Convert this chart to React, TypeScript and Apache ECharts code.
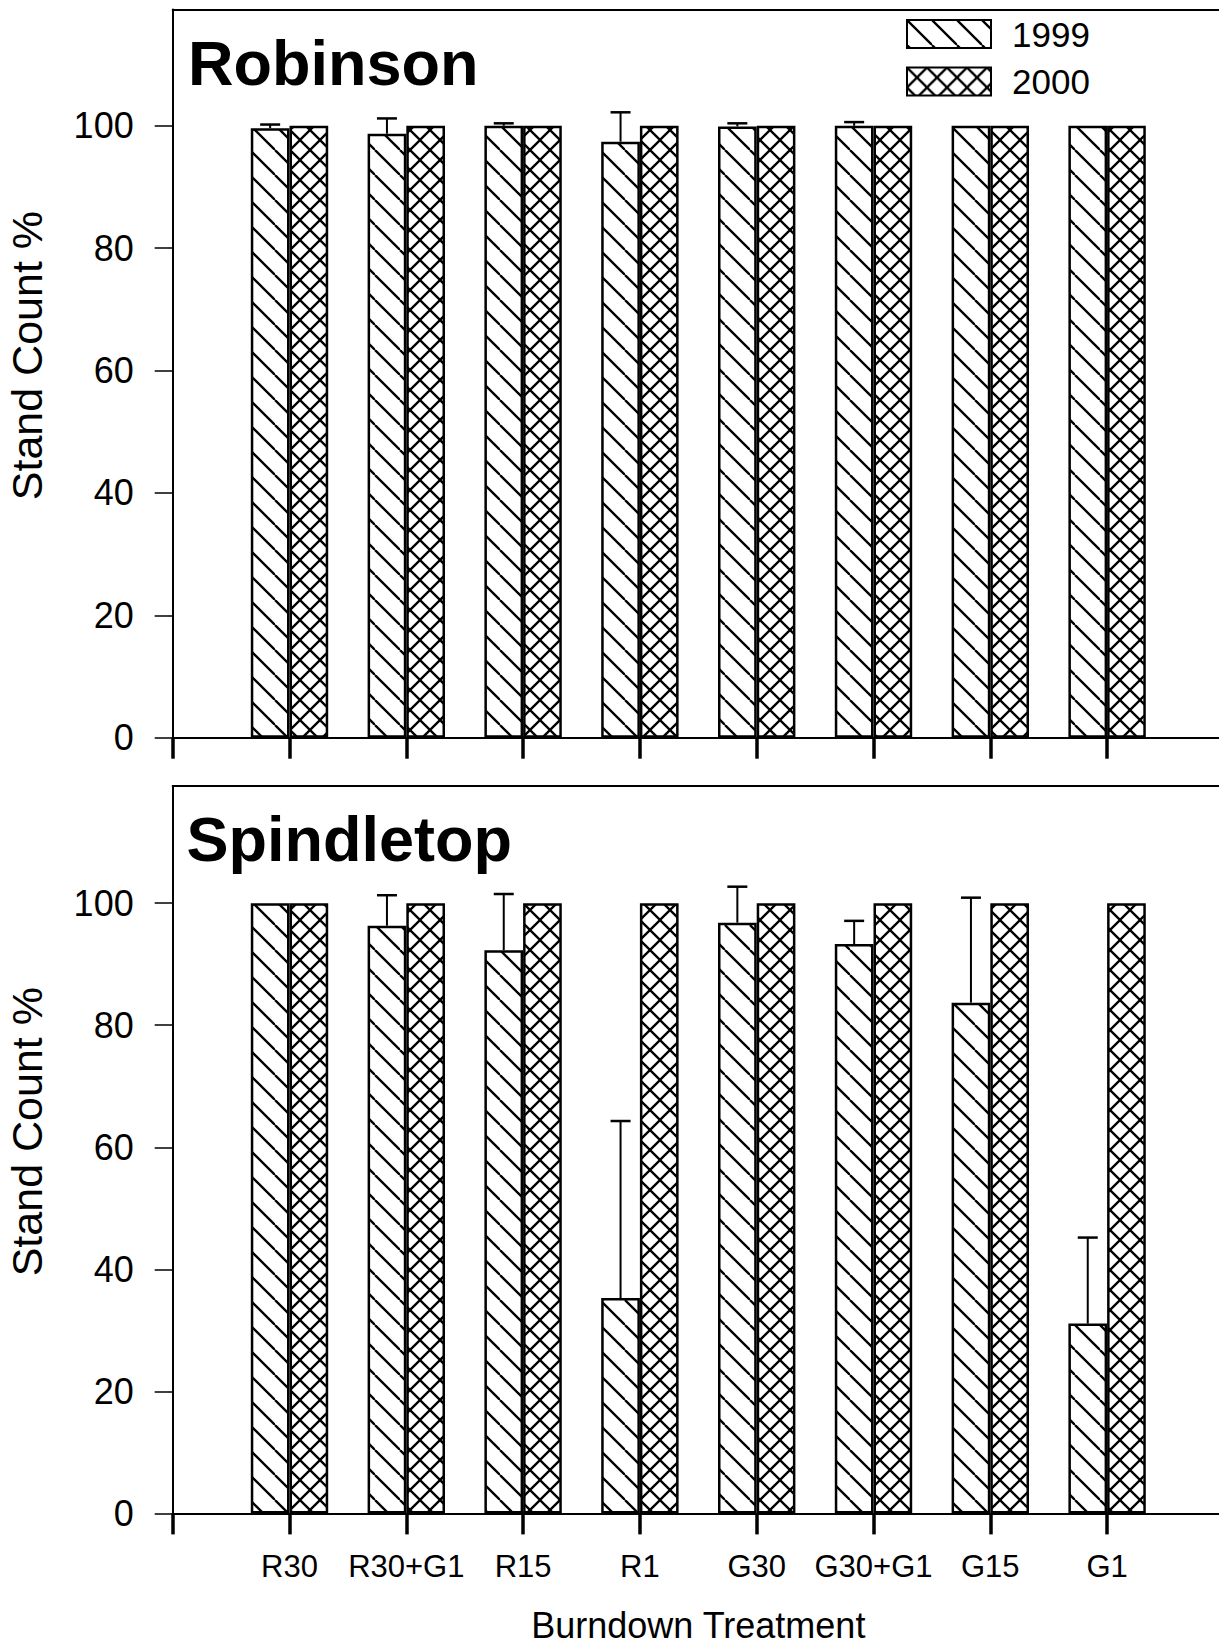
import { useEffect, useRef } from 'react';
import * as echarts from 'echarts';

const CATEGORIES = ['R30', 'R30+G1', 'R15', 'R1', 'G30', 'G30+G1', 'G15', 'G1'];
const YEARS = ['1999', '2000'];
const ROBINSON_1999 = [99.6, 98.7, 100, 97.4, 99.9, 100, 100, 100];
const ROBINSON_1999_ERR = [0.6, 2.5, 0.4, 4.8, 0.5, 0.6, 0, 0];
const ROBINSON_2000 = [100, 100, 100, 100, 100, 100, 100, 100];
const SPINDLETOP_1999 = [100, 96.3, 92.3, 35.3, 96.8, 93.3, 83.7, 31.1];
const SPINDLETOP_1999_ERR = [0, 5.0, 9.2, 29.0, 5.9, 3.8, 17.2, 14.1];
const SPINDLETOP_2000 = [100, 100, 100, 100, 100, 100, 100, 100];
const Y_TICKS = [0, 20, 40, 60, 80, 100];
const PANEL_TITLES = ['Robinson', 'Spindletop'];
const Y_TITLE = 'Stand Count %';
const X_TITLE = 'Burndown Treatment';

const FONT = '"Liberation Sans", Arial, Helvetica, sans-serif';
const BAR_W = 38.7;
const CAP_W = 20;

function hatch(size: number, cross: boolean) {
  const c = document.createElement('canvas');
  c.width = size;
  c.height = size;
  const ctx = c.getContext('2d')!;
  ctx.fillStyle = '#fff';
  ctx.fillRect(0, 0, size, size);
  ctx.strokeStyle = '#000';
  ctx.lineWidth = 2.3;
  for (const o of [-size, 0, size]) {
    ctx.beginPath();
    ctx.moveTo(o, 0);
    ctx.lineTo(o + size, size);
    ctx.stroke();
    if (cross) {
      ctx.beginPath();
      ctx.moveTo(o, size);
      ctx.lineTo(o + size, 0);
      ctx.stroke();
    }
  }
  return c;
}

export default function App() {
  const ref = useRef<HTMLDivElement>(null);
  useEffect(() => {
    const chart = echarts.init(ref.current!, null, { renderer: 'svg' });
    const fill1999 = { image: hatch(25, false), repeat: 'repeat', imageWidth: 25, imageHeight: 25 };
    const fill2000 = { image: hatch(20, true), repeat: 'repeat', imageWidth: 20, imageHeight: 20 };
    const axisCats = ['', ...CATEGORIES, ' '];

    const panels = [
      { title: PANEL_TITLES[0], v99: ROBINSON_1999, e99: ROBINSON_1999_ERR, v00: ROBINSON_2000,
        top: 9.5, height: 728.2, max: 119, labels: false, titleLeft: 188, titleTop: 31 },
      { title: PANEL_TITLES[1], v99: SPINDLETOP_1999, e99: SPINDLETOP_1999_ERR, v00: SPINDLETOP_2000,
        top: 786, height: 727.4, max: 119.2, labels: true, titleLeft: 186.5, titleTop: 807.5 },
    ];

    const grid: any[] = [];
    const xAxis: any[] = [];
    const yAxis: any[] = [];
    const series: any[] = [];
    const title: any[] = [];

    panels.forEach((p, pi) => {
      grid.push({ left: 172.7, top: p.top, width: 1051.2, height: p.height, outerBoundsMode: 'none', containLabel: false });
      title.push({
        text: p.title, left: p.titleLeft, top: p.titleTop, padding: 0,
        textStyle: { fontSize: 63, lineHeight: 63, fontWeight: 'bold', color: '#000', fontFamily: FONT },
      });
      xAxis.push({
        gridIndex: pi, type: 'category', data: axisCats, boundaryGap: false, position: 'bottom',
        axisLine: { show: true, onZero: false, lineStyle: { color: '#000', width: 2 } },
        axisTick: { show: true, length: 21, interval: (i: number) => i <= CATEGORIES.length, lineStyle: { color: '#000', width: 3.5 } },
        axisLabel: { show: p.labels, interval: 0, margin: 38, fontSize: 31, lineHeight: 31, color: '#000', fontFamily: FONT },
        splitLine: { show: false },
        name: p.labels ? X_TITLE : '', nameLocation: 'middle', nameGap: 97, nameMoveOverlap: false,
        nameTextStyle: { fontSize: 36, lineHeight: 30, color: '#000', fontFamily: FONT },
      });
      xAxis.push({
        gridIndex: pi, type: 'category', data: axisCats, boundaryGap: false, position: 'top',
        axisLine: { show: true, onZero: false, lineStyle: { color: '#000', width: 2 } },
        axisTick: { show: false }, axisLabel: { show: false }, splitLine: { show: false },
      });
      yAxis.push({
        gridIndex: pi, type: 'value', min: 0, max: p.max, interval: 20,
        axisLine: { show: true, lineStyle: { color: '#000', width: 2 } },
        axisTick: { show: true, length: 18, customValues: Y_TICKS, lineStyle: { color: '#000', width: 1.5 } },
        axisLabel: { customValues: Y_TICKS, margin: 39, fontSize: 36, color: '#000', fontFamily: FONT },
        splitLine: { show: false },
        name: Y_TITLE, nameLocation: 'middle', nameGap: 124, nameMoveOverlap: false,
        nameTextStyle: { fontSize: 43, lineHeight: 43, color: '#000', fontFamily: FONT, padding: [0, 0, 0, 36] },
      });
      series.push({
        type: 'bar', name: YEARS[0], xAxisIndex: pi * 2, yAxisIndex: pi,
        data: CATEGORIES.map((c, i) => [c, p.v99[i]]),
        barWidth: BAR_W, barGap: '0%',
        itemStyle: { color: fill1999, borderColor: '#000', borderWidth: 2.5 },
      });
      series.push({
        type: 'bar', name: YEARS[1], xAxisIndex: pi * 2, yAxisIndex: pi,
        data: CATEGORIES.map((c, i) => [c, p.v00[i]]),
        barWidth: BAR_W, barGap: '0%',
        itemStyle: { color: fill2000, borderColor: '#000', borderWidth: 2.5 },
      });
      series.push({
        type: 'custom', name: 'err' + pi, xAxisIndex: pi * 2, yAxisIndex: pi, z: 5,
        encode: { x: 0, y: 1 },
        data: CATEGORIES.map((c, i) => [c, p.v99[i], p.e99[i]]),
        renderItem: (params: any, api: any) => {
          const v = api.value(1);
          const e = api.value(2);
          if (!e) return null;
          const ci = api.value(0);
          const base = api.coord([ci, v]);
          const top = api.coord([ci, v + e]);
          const x = base[0] - BAR_W / 2;
          return {
            type: 'group',
            children: [
              { type: 'line', shape: { x1: x, y1: base[1], x2: x, y2: top[1] }, style: { stroke: '#000', lineWidth: 2 } },
              { type: 'line', shape: { x1: x - CAP_W / 2, y1: top[1], x2: x + CAP_W / 2, y2: top[1] }, style: { stroke: '#000', lineWidth: 2.5 } },
            ],
          };
        },
      });
    });

    chart.setOption({
      animation: false,
      backgroundColor: '#fff',
      title,
      legend: {
        data: YEARS, orient: 'vertical', left: 906, top: 16.5, padding: 0,
        itemWidth: 84, itemHeight: 28, itemGap: 12.5, icon: 'rect',
        itemStyle: { borderColor: '#000', borderWidth: 2 },
        textStyle: { fontSize: 35, lineHeight: 34, color: '#000', fontFamily: FONT, padding: [0, 0, 0, 16] },
      },
      grid, xAxis, yAxis, series,
    });
    return () => chart.dispose();
  }, []);
  return <div ref={ref} style={{ position: 'absolute', left: 0, top: 0, width: 1219, height: 1646, background: '#fff' }} />;
}
